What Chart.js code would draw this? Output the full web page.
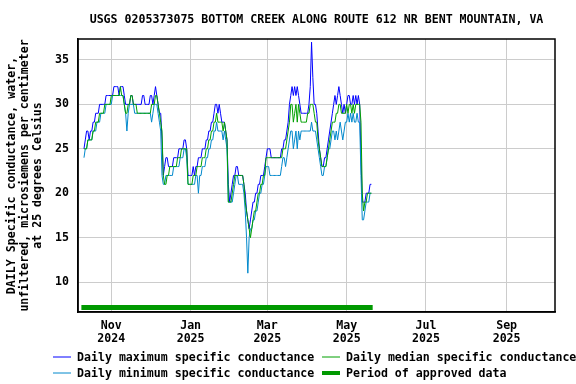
<!DOCTYPE html>
<html>
<head>
<meta charset="utf-8">
<title>USGS 0205373075 specific conductance</title>
<script src="https://cdn.jsdelivr.net/npm/chart.js@4.4.1/dist/chart.umd.min.js"></script>
<style>
    html, body { margin: 0; padding: 0; background: #fff; }
</style>
</head>
<body>
<canvas id="chart" width="576" height="384"></canvas>
<script>
// Daily values, one per day starting at firstDate (uS/cm at 25 C)
const firstDate = '2024-10-11';

const maxVals = [
    25, 26, 27, 27, 26, 27, 27, 28, 28, 29,
    29, 29, 30, 30, 30, 30, 30, 31, 31, 31,
    31, 31, 31, 32, 32, 32, 32, 31, 32, 32,
    32, 31, 30, 30, 30, 30, 31, 31, 30, 30,
    30, 30, 30, 30, 30, 31, 31, 30, 30, 30,
    30, 31, 31, 30, 31, 32, 31, 30, 29, 29,
    26, 22, 23, 24, 24, 23, 23, 23, 23, 24,
    24, 24, 24, 25, 25, 25, 25, 26, 26, 25,
    22, 22, 22, 22, 23, 22, 23, 23, 24, 24,
    24, 25, 25, 25, 26, 26, 27, 27, 28, 28,
    29, 30, 30, 29, 30, 29, 28, 28, 28, 27,
    26, 21, 19, 20, 21, 22, 22, 23, 23, 22,
    22, 22, 22, 21, 20, 18, 17, 16, 17, 18,
    19, 19, 20, 20, 21, 21, 22, 22, 22, 23,
    24, 25, 25, 25, 24, 24, 24, 24, 24, 24,
    24, 24, 25, 25, 26, 26, 27, 28, 30, 31,
    32, 31, 32, 31, 32, 31, 30, 29, 29, 29,
    29, 29, 29, 30, 32, 37, 33, 30, 30, 29,
    27, 25, 24, 23, 23, 24, 24, 25, 26, 27,
    28, 29, 30, 31, 30, 31, 32, 31, 30, 29,
    30, 29, 30, 31, 31, 30, 30, 31, 30, 31,
    30, 31, 30, 24, 19, 19, 19, 20, 20, 20,
    21, 21
];

const medianVals = [
    25, 25, 25, 26, 26, 26, 26, 27, 27, 28,
    28, 28, 29, 29, 29, 29, 30, 30, 30, 30,
    30, 31, 31, 31, 31, 31, 31, 31, 32, 31,
    31, 30, 29, 29, 30, 30, 31, 31, 30, 30,
    30, 29, 29, 29, 29, 29, 29, 29, 29, 29,
    29, 29, 30, 30, 30, 31, 31, 30, 29, 28,
    27, 22, 21, 21, 22, 22, 23, 23, 23, 23,
    23, 23, 24, 24, 24, 25, 25, 25, 25, 25,
    21, 21, 21, 21, 22, 22, 22, 23, 23, 23,
    23, 24, 24, 24, 25, 25, 26, 26, 27, 27,
    28, 28, 29, 28, 28, 28, 28, 27, 28, 27,
    26, 19, 19, 19, 20, 21, 22, 22, 22, 22,
    22, 22, 22, 21, 19, 18, 17, 16, 15, 16,
    17, 18, 18, 19, 20, 20, 21, 21, 22, 22,
    24, 24, 24, 24, 24, 24, 24, 24, 24, 24,
    24, 24, 24, 25, 25, 25, 26, 27, 28, 30,
    30, 28, 29, 30, 28, 30, 29, 28, 28, 28,
    28, 28, 29, 29, 30, 30, 30, 29, 28, 28,
    26, 25, 24, 23, 23, 23, 23, 24, 25, 26,
    27, 28, 28, 28, 29, 29, 30, 30, 29, 29,
    29, 29, 30, 29, 30, 30, 29, 30, 29, 30,
    30, 30, 30, 28, 20, 18, 19, 19, 20, 20,
    20, 20
];

const minVals = [
    24, 25, 25, 26, 26, 26, 26, 27, 27, 27,
    28, 28, 28, 29, 29, 29, 29, 30, 30, 30,
    30, 30, 31, 31, 31, 31, 31, 31, 31, 31,
    31, 30, 29, 27, 29, 30, 30, 30, 30, 29,
    29, 29, 29, 29, 29, 29, 29, 29, 29, 29,
    29, 29, 28, 29, 30, 30, 30, 29, 28, 27,
    22, 21, 21, 22, 22, 22, 22, 22, 22, 23,
    23, 23, 23, 23, 24, 24, 24, 25, 25, 24,
    21, 21, 21, 21, 21, 21, 22, 22, 20, 22,
    22, 23, 23, 23, 24, 24, 25, 25, 26, 26,
    27, 27, 28, 27, 27, 27, 27, 26, 27, 26,
    25, 19, 19, 19, 19, 20, 21, 22, 22, 21,
    21, 21, 21, 20, 18, 15, 11, 15, 16, 16,
    17, 17, 18, 18, 19, 20, 20, 21, 21, 22,
    23, 23, 23, 22, 22, 22, 22, 22, 22, 22,
    22, 22, 23, 24, 24, 23, 24, 25, 26, 27,
    27, 25, 26, 27, 25, 27, 26, 27, 27, 27,
    27, 27, 27, 27, 27, 28, 27, 27, 27, 26,
    25, 24, 23, 22, 22, 23, 23, 24, 25, 25,
    26, 27, 27, 26, 27, 26, 27, 28, 27, 26,
    27, 28, 28, 29, 28, 29, 28, 29, 28, 28,
    29, 28, 28, 22, 17, 17, 18, 19, 19, 19,
    20, 20
];

// Period of approved data
const approvedStart = '2024-10-09';
const approvedEnd = '2025-05-21';

const tickDates = ['2024-11-01', '2025-01-01', '2025-03-01', '2025-05-01', '2025-07-01', '2025-09-01'];
const tickLabels = [['Nov', '2024'], ['Jan', '2025'], ['Mar', '2025'], ['May', '2025'], ['Jul', '2025'], ['Sep', '2025']];
const yTicks = [10, 15, 20, 25, 30, 35];

const titleText = 'USGS 0205373075 BOTTOM CREEK ALONG ROUTE 612 NR BENT MOUNTAIN, VA';
const yTitleLines = [
    'DAILY Specific conductance, water,',
    'unfiltered, microsiemens per centimeter',
    'at 25 degrees Celsius'
];
const legendLabels = [
    'Daily maximum specific conductance',
    'Daily median specific conductance',
    'Daily minimum specific conductance',
    'Period of approved data'
];

const maxColor = '#0000ff';
const medianColor = '#00a000';
const minColor = '#0088cc';
const approvedColor = '#009900';
const FONT_FAMILY = '"DejaVu Sans Mono", monospace';
const FONT_SIZE = 11.6;

// day number counted from 2024-10-01
const dayZero = Date.UTC(2024, 9, 1);
function dayIndex(iso) {
    const [y, m, d] = iso.split('-').map(Number);
    return Math.round((Date.UTC(y, m - 1, d) - dayZero) / 864e5);
}

function toPoints(values) {
    const start = dayIndex(firstDate);
    return values.map((v, i) => ({ x: start + i, y: v }));
}

const tickDays = tickDates.map(dayIndex);
const approvedLevel = 7.15;

// Title, y-axis title, frame and legend drawn by hand
const decorPlugin = {
    id: 'decor',
    afterDraw(chart) {
        const ctx = chart.ctx;
        const area = chart.chartArea;
        ctx.save();

        ctx.strokeStyle = '#000';
        ctx.lineWidth = 1.5;
        ctx.strokeRect(area.left, area.top, area.right - area.left, area.bottom - area.top);

        ctx.fillStyle = '#000';
        ctx.font = `bold ${FONT_SIZE}px ${FONT_FAMILY}`;
        ctx.textAlign = 'center';
        ctx.textBaseline = 'middle';
        ctx.fillText(titleText, (area.left + area.right) / 2, 20);

        // rotated y title
        ctx.save();
        ctx.translate(25, (area.top + area.bottom) / 2);
        ctx.rotate(-Math.PI / 2);
        yTitleLines.forEach((line, i) => ctx.fillText(line, 0, (i - 1) * 13));
        ctx.restore();

        // legend
        const items = [
            { color: maxColor, width: 1, x: 53, y: 357 },
            { color: medianColor, width: 1, x: 322, y: 357 },
            { color: minColor, width: 1, x: 53, y: 373 },
            { color: approvedColor, width: 4, x: 322, y: 373 }
        ];
        ctx.textAlign = 'left';
        items.forEach((item, i) => {
            ctx.strokeStyle = item.color;
            ctx.lineWidth = item.width;
            ctx.beginPath();
            ctx.moveTo(item.x, item.y);
            ctx.lineTo(item.x + 18, item.y);
            ctx.stroke();
            ctx.fillText(legendLabels[i], item.x + 24, item.y + 1);
        });

        ctx.restore();
    }
};

const tickFont = { family: FONT_FAMILY, size: FONT_SIZE, weight: 'bold', lineHeight: 1.15 };

new Chart(document.getElementById('chart').getContext('2d'), {
    type: 'line',
    data: {
        datasets: [
            {
                label: legendLabels[1],
                data: toPoints(medianVals),
                borderColor: medianColor,
                borderWidth: 1,
                pointRadius: 0,
                order: 0
            },
            {
                label: legendLabels[2],
                data: toPoints(minVals),
                borderColor: minColor,
                borderWidth: 1,
                pointRadius: 0,
                order: 1
            },
            {
                label: legendLabels[0],
                data: toPoints(maxVals),
                borderColor: maxColor,
                borderWidth: 1,
                pointRadius: 0,
                order: 2
            },
            {
                label: legendLabels[3],
                data: [
                    { x: dayIndex(approvedStart), y: approvedLevel },
                    { x: dayIndex(approvedEnd), y: approvedLevel }
                ],
                borderColor: approvedColor,
                borderWidth: 5,
                borderCapStyle: 'butt',
                pointRadius: 0,
                order: 3
            }
        ]
    },
    options: {
        responsive: false,
        animation: false,
        layout: { padding: { top: 39, right: 21, bottom: 0, left: 0 } },
        plugins: {
            legend: { display: false },
            title: { display: false },
            tooltip: { enabled: false }
        },
        scales: {
            x: {
                type: 'linear',
                min: 5.4,
                max: 372.2,
                afterBuildTicks: scale => { scale.ticks = tickDays.map(v => ({ value: v })); },
                afterFit: scale => { scale.height = 72; },
                grid: { color: '#cccccc', drawTicks: false },
                border: { color: '#000', width: 1.5 },
                ticks: {
                    font: tickFont,
                    color: '#000',
                    padding: 7,
                    maxRotation: 0,
                    autoSkip: false,
                    callback: (value, index) => tickLabels[index]
                }
            },
            y: {
                min: 6.63,
                max: 37.36,
                afterBuildTicks: scale => { scale.ticks = yTicks.map(v => ({ value: v })); },
                afterFit: scale => { scale.width = 78; },
                grid: { color: '#cccccc', drawTicks: false },
                border: { color: '#000', width: 1.5 },
                ticks: {
                    font: tickFont,
                    color: '#000',
                    padding: 9,
                    callback: value => value
                }
            }
        }
    },
    plugins: [decorPlugin]
});
</script>
</body>
</html>
